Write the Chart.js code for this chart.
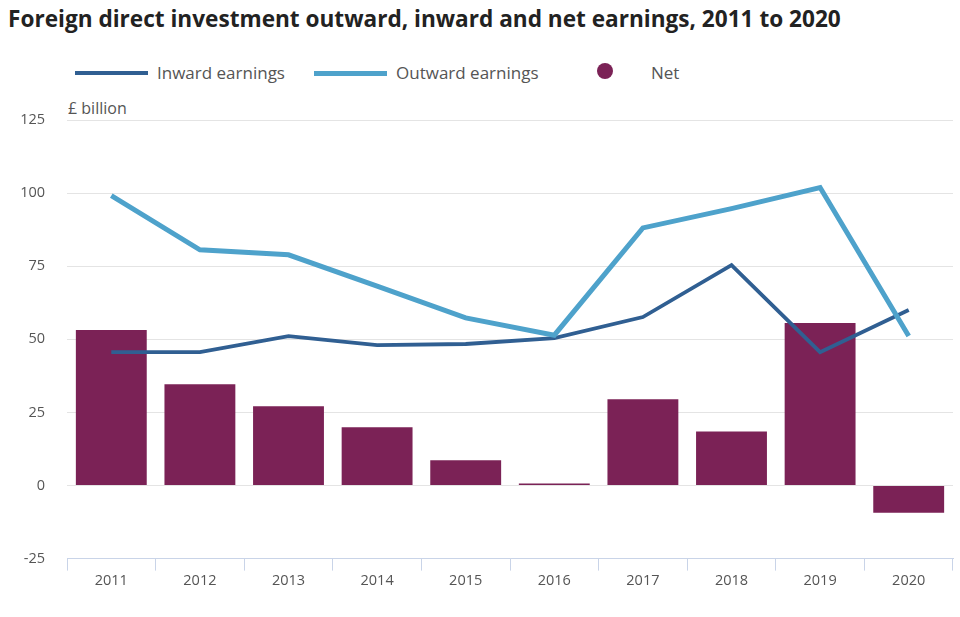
<!DOCTYPE html>
<html><head><meta charset="utf-8">
<script src="https://cdn.jsdelivr.net/npm/chart.js@4.4.1/dist/chart.umd.min.js"></script>
<style>
html,body{margin:0;padding:0;background:#fff;}
#wrap{position:relative;width:960px;height:617px;font-family:"Open Sans",sans-serif;}
#title{position:absolute;left:8px;top:3px;font-size:22.6px;font-weight:700;color:#222;white-space:nowrap;}
.leg{position:absolute;top:61px;font-size:17px;color:#555;white-space:nowrap;}
.ln{position:absolute;height:4px;top:71px;}
#unit{position:absolute;left:68px;top:97px;font-size:16px;color:#555;}
canvas{position:absolute;left:0;top:0;}
</style></head><body>
<div id="wrap">
<div id="title">Foreign direct investment outward, inward and net earnings, 2011 to 2020</div>
<div class="ln" style="left:75px;width:73px;background:#305f92;"></div>
<div class="leg" style="left:157px;">Inward earnings</div>
<div class="ln" style="left:314px;width:73px;background:#4ea2cb;height:5px;"></div>
<div class="leg" style="left:396px;">Outward earnings</div>
<div style="position:absolute;left:597px;top:63px;width:16px;height:16px;border-radius:50%;background:#7b2256;"></div>
<div class="leg" style="left:651px;">Net</div>
<div id="unit">£ billion</div>
<canvas id="c" width="960" height="617"></canvas>
</div>
<script>
const years = ["2011","2012","2013","2014","2015","2016","2017","2018","2019","2020"];
const inward = [45.6,45.6,51.1,48.0,48.4,50.4,57.6,75.4,45.6,60.0];
const outward = [99.1,80.6,78.9,68.2,57.3,51.4,88.1,94.7,101.9,51.1];
const net = [53.2,34.6,27.1,19.9,8.6,0.7,29.5,18.5,55.6,-9.3];

new Chart(document.getElementById('c'), {
  data: {
    labels: years,
    datasets: [
      {type:'line', label:'Inward earnings', data:inward, borderColor:'#305f92', borderWidth:3.8, pointRadius:0, tension:0, order:1},
      {type:'line', label:'Outward earnings', data:outward, borderColor:'#4ea2cb', borderWidth:5, pointRadius:0, tension:0, order:0},
      {type:'bar', label:'Net', data:net, backgroundColor:'#7b2256', barPercentage:0.8, categoryPercentage:1.0, order:2}
    ]
  },
  options: {
    responsive:false, animation:false,
    layout:{padding:{top:120,right:7,bottom:25,left:0}},
    plugins:{legend:{display:false}, tooltip:{enabled:false}},
    scales:{
      x:{
        offset:true,
        grid:{display:true, offset:true, drawOnChartArea:false, tickLength:12, color:'#c9d4e8'},
        border:{color:'#c9d4e8'},
        ticks:{font:{family:'Open Sans',size:14.5}, color:'#555', padding:2}
      },
      y:{
        min:-25, max:125,
        ticks:{stepSize:25, font:{family:'Open Sans',size:14.5}, color:'#555', padding:22},
        grid:{color:'#e4e4e4', drawTicks:false},
        border:{display:false},
        afterFit(s){ s.width = 67; }
      }
    }
  }
});
</script>
</body></html>
